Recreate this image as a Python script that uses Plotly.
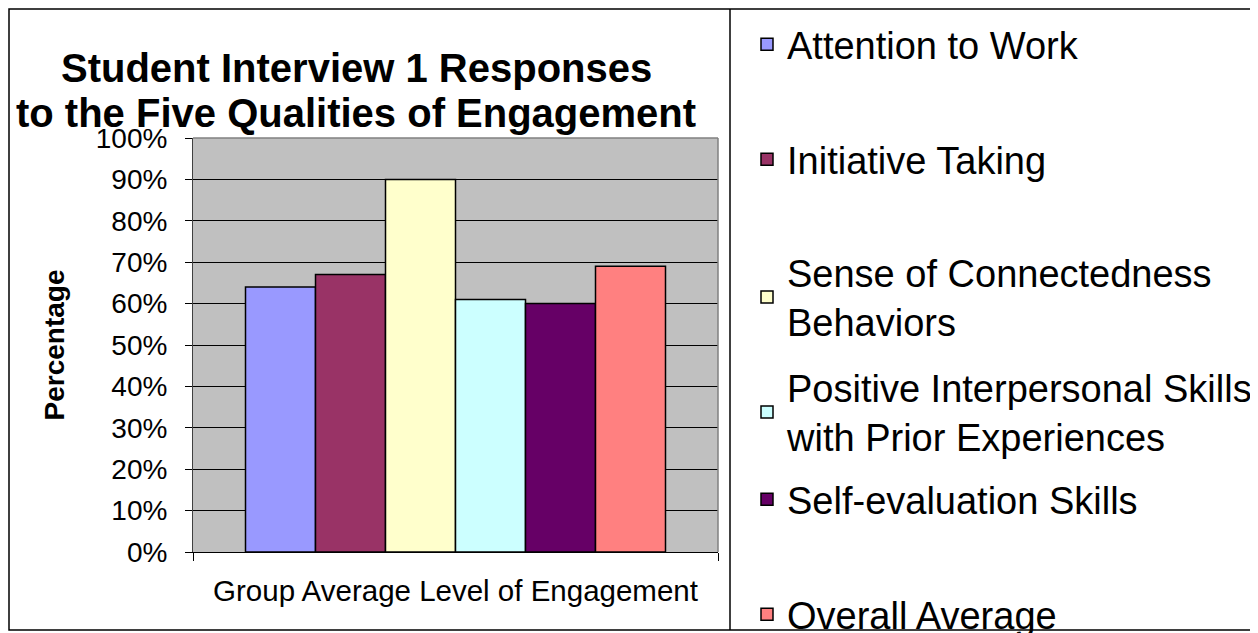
import plotly.graph_objects as go

# -------------------------
# data
# -------------------------
category = ["Group Average Level of Engagement"]
series_names = [
    "Attention to Work",
    "Initiative Taking",
    "Sense of Connectedness<br>Behaviors",
    "Positive Interpersonal Skills<br>with Prior Experiences",
    "Self-evaluation Skills",
    "Overall Average",
]
series_values = [0.64, 0.67, 0.90, 0.61, 0.60, 0.69]
colors = ["#9999FF", "#993366", "#FFFFCC", "#CCFFFF", "#660066", "#FF8080"]
y_ticks = [0, 0.1, 0.2, 0.3, 0.4, 0.5, 0.6, 0.7, 0.8, 0.9, 1.0]
title_lines = ["Student Interview 1 Responses", "to the Five Qualities of Engagement"]

# page body has an 8px margin, so the figure is drawn 8px smaller and
# all reference pixel positions are shifted by 8
OFF = 8
W, H = 1258 - OFF, 633 - OFF
L, R, T, B = 193 - OFF, 1258 - 718, 138 - OFF, 633 - 552
pw, ph = W - L - R, H - T - B


def px_x(x):
    return (x - OFF - L) / pw


def px_y(y):
    return (H - B - (y - OFF)) / ph


FONT = "Liberation Sans, Arial, sans-serif"

fig = go.Figure()
legend_centers = [45, 160, 273, 388, 500, 615]
for i, (name, val) in enumerate(zip(series_names, series_values)):
    lg = "legend" if i == 0 else f"legend{i + 1}"
    fig.add_trace(go.Bar(
        x=category, y=[val], name=name,
        marker=dict(color=colors[i], line=dict(color="black", width=1.5)),
        legend=lg,
    ))

layout_legends = {}
for i, c in enumerate(legend_centers):
    key = "legend" if i == 0 else f"legend{i + 1}"
    layout_legends[key] = dict(
        x=px_x(747), y=px_y(c - 32), xanchor="left", yanchor="top",
        font=dict(family=FONT, size=38, color="black"),
        bgcolor="rgba(0,0,0,0)", itemwidth=30,
    )

annotations = []
for txt, cy in zip(title_lines, [68, 113]):
    annotations.append(dict(
        text=f"<b>{txt}</b>", xref="paper", yref="paper",
        x=px_x(356), y=px_y(cy), xanchor="center", yanchor="middle",
        showarrow=False, font=dict(family=FONT, size=40, color="black"),
    ))

fig.update_layout(
    width=W, height=H,
    margin=dict(l=L, r=R, t=T, b=B, autoexpand=False),
    paper_bgcolor="white",
    plot_bgcolor="#C0C0C0",
    barmode="group",
    bargap=0.2,
    bargroupgap=0,
    showlegend=True,
    annotations=annotations,
    xaxis=dict(
        showgrid=False, ticks="outside", tickson="boundaries", ticklen=8,
        tickcolor="black", showline=True, linecolor="black", linewidth=1,
        tickfont=dict(family=FONT, size=29.5, color="black"),
        ticklabelstandoff=13,
    ),
    yaxis=dict(
        range=[0, 1], tickvals=y_ticks, tickformat=".0%",
        showgrid=True, gridcolor="black", gridwidth=1,
        ticks="outside", ticklen=7, tickcolor="black",
        showline=True, linecolor="#404040", linewidth=1,
        tickfont=dict(family=FONT, size=28, color="black"),
        ticklabelstandoff=12,
        title=dict(text="<b>Percentage</b>", standoff=22,
                   font=dict(family=FONT, size=28, color="black")),
        zeroline=False,
    ),
    shapes=[
        # plot area border (top / right)
        dict(type="line", xref="paper", yref="paper", x0=0, x1=1, y0=1, y1=1,
             line=dict(color="#808080", width=1.5)),
        dict(type="line", xref="paper", yref="paper", x0=1, x1=1, y0=0, y1=1,
             line=dict(color="#808080", width=1.5)),
        # outer chart border
        dict(type="rect", xref="paper", yref="paper",
             x0=px_x(9), x1=px_x(1256), y0=px_y(630), y1=px_y(9),
             line=dict(color="black", width=1.5)),
        # divider between chart and legend
        dict(type="line", xref="paper", yref="paper",
             x0=px_x(730), x1=px_x(730), y0=px_y(630), y1=px_y(9),
             line=dict(color="black", width=1.5)),
    ],
    **layout_legends,
)

fig.write_html("out.html")
